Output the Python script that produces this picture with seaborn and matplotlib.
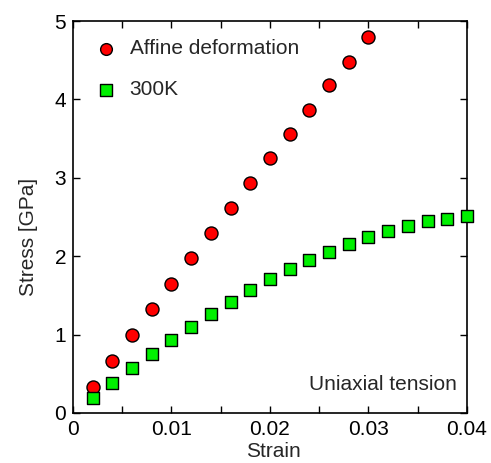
import matplotlib
matplotlib.use("Agg")
import matplotlib.pyplot as plt
import seaborn as sns
import numpy as np
import pandas as pd
from matplotlib.ticker import MultipleLocator

sns.set_style("ticks")
plt.rcParams['font.family'] = ['Liberation Sans', 'DejaVu Sans']

affine_strain = [0.002, 0.004, 0.006, 0.008, 0.010, 0.012, 0.014, 0.016,
                 0.018, 0.020, 0.022, 0.024, 0.026, 0.028, 0.030]
affine_stress = [0.33, 0.66, 1.00, 1.33, 1.65, 1.98, 2.30, 2.62,
                 2.94, 3.25, 3.56, 3.87, 4.18, 4.48, 4.79]

k300_strain = [0.002, 0.004, 0.006, 0.008, 0.010, 0.012, 0.014, 0.016, 0.018, 0.020,
               0.022, 0.024, 0.026, 0.028, 0.030, 0.032, 0.034, 0.036, 0.038, 0.040]
k300_stress = [0.19, 0.38, 0.57, 0.75, 0.93, 1.10, 1.26, 1.42, 1.57, 1.71,
               1.84, 1.95, 2.05, 2.15, 2.25, 2.32, 2.39, 2.45, 2.48, 2.51]

x_ticks = [0, 0.01, 0.02, 0.03, 0.04]
x_ticklabels = ["0", "0.01", "0.02", "0.03", "0.04"]
y_ticks = [0, 1, 2, 3, 4, 5]

fig = plt.figure(figsize=(4.91, 4.63), dpi=100)
ax = fig.add_axes([0.1487, 0.108, 0.8023, 0.8466])

sns.scatterplot(x=affine_strain, y=affine_stress, ax=ax, marker='o', s=88,
                color='#ff0000', edgecolor='black', linewidth=1.0,
                label='Affine deformation', zorder=3, clip_on=False)
sns.scatterplot(x=k300_strain, y=k300_stress, ax=ax, marker='s', s=78,
                color='#00f000', edgecolor='black', linewidth=1.0,
                label='300K', zorder=3, clip_on=False)

ax.set_xlim(0, 0.04)
ax.set_ylim(0, 5)
ax.set_xticks(x_ticks)
ax.set_xticklabels(x_ticklabels)
ax.set_yticks(y_ticks)
ax.xaxis.set_minor_locator(MultipleLocator(0.005))
ax.tick_params(which='both', direction='in', top=True, right=True,
               labelsize=15, length=5, width=1, pad=5, colors='black')
ax.tick_params(which='minor', length=5)
for s in ax.spines.values():
    s.set_linewidth(1.2)
    s.set_color('black')

ax.set_xlabel('Strain', fontsize=15)
ax.set_ylabel('Stress [GPa]', fontsize=15)
ax.xaxis.set_label_coords(0.51, -0.075, transform=ax.transAxes)
ax.yaxis.set_label_coords(-0.09, 0.45, transform=ax.transAxes)

ax.text(0.975, 0.048, 'Uniaxial tension', transform=ax.transAxes,
        ha='right', va='bottom', fontsize=15)

leg = ax.legend(loc='upper left', frameon=False, fontsize=15,
                handletextpad=0.55, labelspacing=1.05, borderaxespad=0.0,
                handlelength=1.2, markerscale=0.9,
                bbox_to_anchor=(0.03, 0.975))

fig.savefig('out.png', dpi=100)
